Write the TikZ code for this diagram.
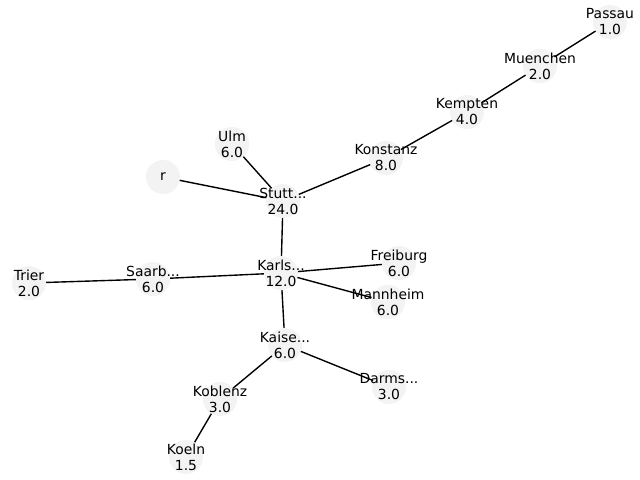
\documentclass[tikz,border=0pt]{standalone}
\usepackage{fontspec}
\setmainfont{DejaVu Sans}
\pgfdeclarelayer{bg}
\pgfsetlayers{bg,main}
\definecolor{vfill}{RGB}{243,243,243}
\tikzset{
  vtx/.style={circle, fill=vfill, draw=none, minimum size=24.5pt, inner sep=0pt},
  txt/.style={align=center, inner sep=0pt, font=\fontsize{10}{11.5}\selectfont},
  edge/.style={draw=black, line width=1pt}
}
\begin{document}
\begin{tikzpicture}[x=0.72pt, y=-0.72pt]
\useasboundingbox (0,0) rectangle (640,480);
\node[vtx, label={[txt]center:Passau\\1.0}] (passau) at (610,22) {};
\node[vtx, label={[txt]center:Muenchen\\2.0}] (muenchen) at (540,66) {};
\node[vtx, label={[txt]center:Kempten\\4.0}] (kempten) at (467,112) {};
\node[vtx, label={[txt]center:Konstanz\\8.0}] (konstanz) at (386,158) {};
\node[vtx, label={[txt]center:Ulm\\6.0}] (ulm) at (232,144) {};
\node[vtx, label={[txt]center:r}] (r) at (163,177) {};
\node[vtx, label={[txt]center:Stutt...\\24.0}] (stutt) at (283,201) {};
\node[vtx, label={[txt]center:Trier\\2.0}] (trier) at (29,283) {};
\node[vtx, label={[txt]center:Saarb...\\6.0}] (saarb) at (153,279) {};
\node[vtx, label={[txt]center:Karls...\\12.0}] (karls) at (281,273) {};
\node[vtx, label={[txt]center:Freiburg\\6.0}] (freiburg) at (399,263) {};
\node[vtx, label={[txt]center:Mannheim\\6.0}] (mannheim) at (388,302) {};
\node[vtx, label={[txt]center:Kaise...\\6.0}] (kaise) at (285,345) {};
\node[vtx, label={[txt]center:Darms...\\3.0}] (darms) at (389,387) {};
\node[vtx, label={[txt]center:Koblenz\\3.0}] (koblenz) at (220,399) {};
\node[vtx, label={[txt]center:Koeln\\1.5}] (koeln) at (186,457) {};
\begin{pgfonlayer}{bg}
\draw[edge] (passau.center) -- (muenchen.center);
\draw[edge] (muenchen.center) -- (kempten.center);
\draw[edge] (kempten.center) -- (konstanz.center);
\draw[edge] (konstanz.center) -- (stutt.center);
\draw[edge] (ulm.center) -- (stutt.center);
\draw[edge] (r.center) -- (stutt.center);
\draw[edge] (stutt.center) -- (karls.center);
\draw[edge] (karls.center) -- (saarb.center);
\draw[edge] (saarb.center) -- (trier.center);
\draw[edge] (karls.center) -- (freiburg.center);
\draw[edge] (karls.center) -- (mannheim.center);
\draw[edge] (karls.center) -- (kaise.center);
\draw[edge] (kaise.center) -- (koblenz.center);
\draw[edge] (kaise.center) -- (darms.center);
\draw[edge] (koblenz.center) -- (koeln.center);
\end{pgfonlayer}
\end{tikzpicture}
\end{document}
